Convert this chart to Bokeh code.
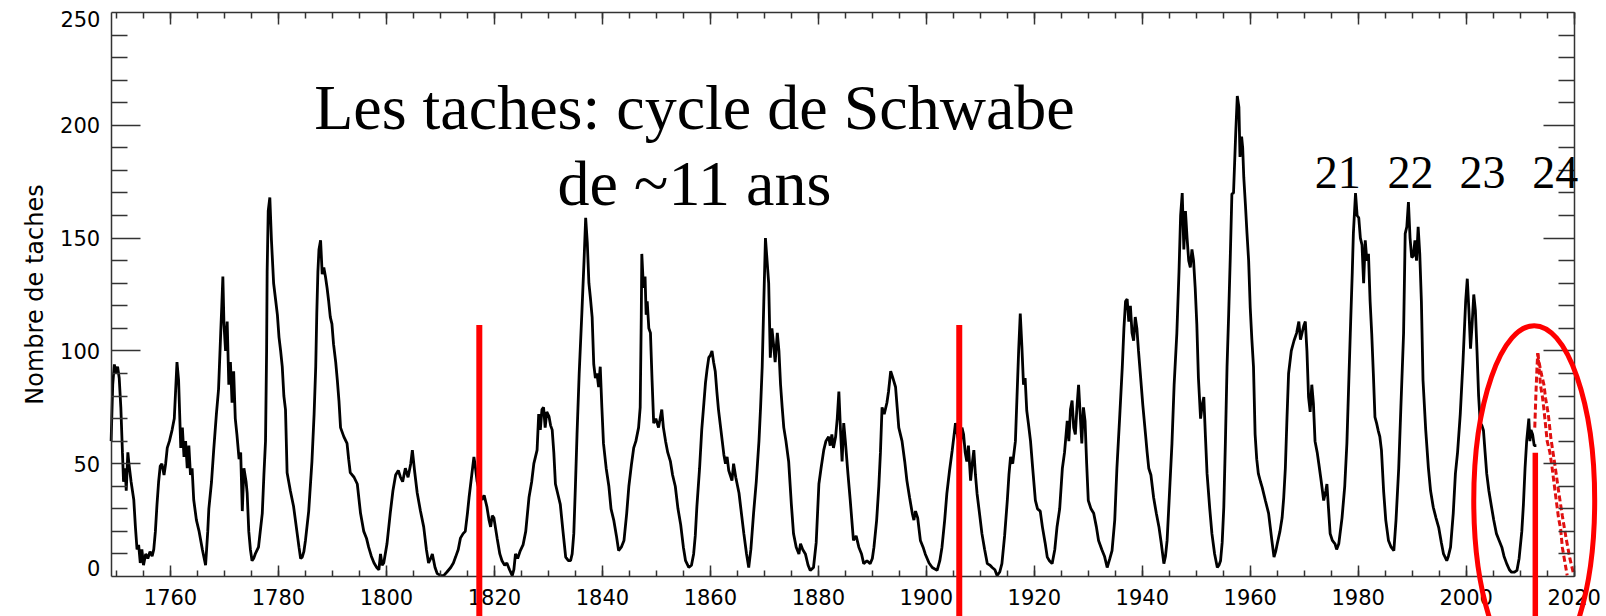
from bokeh.plotting import figure
from bokeh.models import LinearAxis, SingleIntervalTicker, FixedTicker, Range1d, CustomJSTickFormatter
from bokeh.embed import file_html
from bokeh.resources import INLINE
from bokeh.core.properties import value

# ---- sunspot series (year, number) ----
years = [
    1749.0, 1749.3, 1749.6, 1749.9, 1750.2, 1750.5, 1750.8, 1751.1, 1751.3, 1751.6, 1751.8, 1752.1, 1752.3, 1752.7,
    1753.2, 1753.5, 1753.8, 1754.1, 1754.4, 1754.7, 1755.0, 1755.4, 1755.8, 1756.2, 1756.6, 1756.9, 1757.2, 1757.5,
    1757.8, 1758.1, 1758.4, 1758.8, 1759.1, 1759.4, 1759.8, 1760.3, 1760.7, 1761.0, 1761.2, 1761.5, 1761.9, 1762.2,
    1762.5, 1762.8, 1763.1, 1763.4, 1763.7, 1764.0, 1764.3, 1764.8, 1765.3, 1765.9, 1766.5, 1766.9, 1767.1, 1767.6,
    1768.0, 1768.5, 1768.9, 1769.3, 1769.5, 1769.7, 1769.9, 1770.2, 1770.5, 1770.8, 1771.1, 1771.4, 1771.7, 1772.0,
    1772.3, 1772.7, 1773.0, 1773.3, 1773.6, 1774.0, 1774.2, 1774.5, 1774.8, 1775.1, 1775.4, 1775.7, 1776.3, 1777.0,
    1777.3, 1777.6, 1777.8, 1777.9, 1778.1, 1778.4, 1778.7, 1779.1, 1779.5, 1779.8, 1780.1, 1780.4, 1780.7, 1781.0,
    1781.3, 1781.6, 1782.2, 1782.8, 1783.3, 1783.8, 1784.1, 1784.4, 1784.7, 1785.0, 1785.6, 1786.2, 1786.6, 1786.9,
    1787.1, 1787.3, 1787.5, 1787.8, 1788.1, 1788.4, 1788.7, 1789.0, 1789.3, 1789.6, 1789.9, 1790.2, 1790.6, 1790.9,
    1791.2, 1791.5, 1792.1, 1792.7, 1793.0, 1793.3, 1794.0, 1794.6, 1795.2, 1795.8, 1796.3, 1796.7, 1797.2, 1797.7,
    1798.2, 1798.6, 1798.9, 1799.2, 1799.5, 1800.1, 1800.7, 1801.2, 1801.7, 1802.2, 1802.6, 1803.0, 1803.5, 1804.0,
    1804.5, 1804.8, 1805.2, 1805.7, 1806.3, 1806.9, 1807.4, 1807.8, 1808.2, 1808.5, 1809.0, 1809.4, 1810.0, 1810.6,
    1811.2, 1811.9, 1812.4, 1812.8, 1813.3, 1813.7, 1814.2, 1814.6, 1815.0, 1815.3, 1815.8, 1816.2, 1816.5, 1816.8,
    1817.2, 1817.7, 1818.1, 1818.6, 1819.0, 1819.3, 1819.6, 1819.9, 1820.5, 1821.0, 1821.4, 1821.9, 1822.3, 1822.8,
    1823.3, 1823.6, 1823.9, 1824.3, 1824.8, 1825.3, 1825.8, 1826.4, 1826.9, 1827.3, 1827.9, 1828.2, 1828.5, 1828.8,
    1829.1, 1829.4, 1829.7, 1830.1, 1830.4, 1830.7, 1831.0, 1831.3, 1831.8, 1832.2, 1832.7, 1833.2, 1833.7, 1834.1,
    1834.4, 1834.7, 1835.0, 1835.3, 1835.7, 1836.2, 1836.6, 1836.9, 1837.2, 1837.5, 1837.8, 1838.1, 1838.4, 1838.7,
    1839.0, 1839.3, 1839.6, 1839.9, 1840.2, 1840.7, 1841.2, 1841.6, 1842.1, 1842.6, 1843.0, 1843.5, 1844.0, 1844.5,
    1844.9, 1845.4, 1845.8, 1846.2, 1846.7, 1847.0, 1847.2, 1847.3, 1847.6, 1847.9, 1848.1, 1848.3, 1848.6, 1848.9,
    1849.2, 1849.5, 1849.9, 1850.4, 1850.7, 1851.0, 1851.3, 1851.7, 1852.1, 1852.6, 1853.0, 1853.5, 1854.0, 1854.5,
    1855.0, 1855.4, 1856.0, 1856.5, 1856.9, 1857.2, 1857.5, 1858.0, 1858.4, 1858.8, 1859.1, 1859.4, 1859.7, 1860.0,
    1860.3, 1860.6, 1860.9, 1861.2, 1861.5, 1861.9, 1862.2, 1862.5, 1862.8, 1863.1, 1863.4, 1864.0, 1864.3, 1864.7,
    1865.3, 1865.8, 1866.2, 1866.7, 1867.1, 1867.5, 1868.0, 1868.5, 1869.0, 1869.3, 1869.6, 1869.9, 1870.2, 1870.5,
    1870.8, 1871.1, 1871.4, 1871.7, 1872.0, 1872.4, 1872.7, 1873.0, 1873.3, 1873.6, 1874.0, 1874.5, 1875.0, 1875.4,
    1875.9, 1876.4, 1876.7, 1877.1, 1877.6, 1878.1, 1878.5, 1879.1, 1879.6, 1880.1, 1880.5, 1881.0, 1881.4, 1881.9,
    1882.2, 1882.5, 1882.8, 1883.2, 1883.5, 1883.8, 1884.1, 1884.4, 1884.7, 1885.0, 1885.5, 1885.9, 1886.5, 1887.0,
    1887.5, 1888.0, 1888.4, 1889.0, 1889.6, 1890.0, 1890.3, 1890.8, 1891.2, 1891.5, 1891.8, 1892.2, 1892.7, 1893.0,
    1893.4, 1893.8, 1894.3, 1894.6, 1894.9, 1895.5, 1896.0, 1896.4, 1896.9, 1897.4, 1897.7, 1898.0, 1898.4, 1898.9,
    1899.4, 1899.8, 1900.5, 1901.1, 1902.0, 1902.5, 1902.9, 1903.4, 1903.8, 1904.3, 1904.8, 1905.1, 1905.4, 1905.8,
    1906.3, 1906.6, 1906.9, 1907.2, 1907.5, 1907.8, 1908.2, 1908.5, 1908.8, 1909.1, 1909.4, 1909.9, 1910.3, 1910.8,
    1911.3, 1911.8, 1912.2, 1912.7, 1913.1, 1913.6, 1914.0, 1914.5, 1915.0, 1915.3, 1915.6, 1916.0, 1916.5, 1916.8,
    1917.1, 1917.4, 1917.7, 1918.0, 1918.3, 1918.6, 1918.9, 1919.3, 1919.7, 1920.2, 1920.6, 1921.1, 1921.5, 1922.0,
    1922.4, 1922.8, 1923.3, 1923.8, 1924.2, 1924.7, 1925.2, 1925.6, 1926.1, 1926.4, 1926.7, 1927.0, 1927.3, 1927.6,
    1927.9, 1928.2, 1928.5, 1928.8, 1929.1, 1929.4, 1929.7, 1930.0, 1930.5, 1931.0, 1931.5, 1931.9, 1932.5, 1933.0,
    1933.5, 1934.0, 1934.4, 1934.9, 1935.3, 1935.8, 1936.3, 1936.6, 1936.9, 1937.2, 1937.5, 1937.8, 1938.1, 1938.4,
    1938.7, 1939.0, 1939.3, 1939.7, 1940.1, 1940.6, 1940.9, 1941.2, 1941.6, 1942.1, 1942.6, 1943.1, 1943.5, 1944.0,
    1944.3, 1944.6, 1945.0, 1945.5, 1945.9, 1946.4, 1946.8, 1947.1, 1947.4, 1947.7, 1948.0, 1948.3, 1948.6, 1948.9,
    1949.2, 1949.5, 1949.8, 1950.1, 1950.4, 1950.8, 1951.1, 1951.4, 1951.7, 1952.0, 1952.5, 1952.9, 1953.4, 1953.9,
    1954.2, 1954.5, 1954.8, 1955.1, 1955.4, 1955.7, 1956.0, 1956.3, 1956.6, 1956.9, 1957.3, 1957.6, 1957.9, 1958.1,
    1958.4, 1958.6, 1958.8, 1959.1, 1959.4, 1959.7, 1960.0, 1960.3, 1960.6, 1960.9, 1961.2, 1961.5, 1961.9, 1962.2,
    1962.8, 1963.4, 1963.7, 1964.0, 1964.4, 1964.7, 1965.0, 1965.5, 1965.9, 1966.2, 1966.5, 1966.8, 1967.1, 1967.6,
    1968.1, 1968.6, 1969.0, 1969.3, 1969.6, 1969.9, 1970.2, 1970.5, 1970.8, 1971.1, 1971.4, 1971.7, 1972.0, 1972.4,
    1972.7, 1973.1, 1973.6, 1974.0, 1974.2, 1974.5, 1974.8, 1975.2, 1975.7, 1976.0, 1976.4, 1977.0, 1977.5, 1977.9,
    1978.3, 1978.6, 1978.9, 1979.1, 1979.5, 1979.8, 1980.1, 1980.4, 1980.7, 1981.0, 1981.3, 1981.6, 1981.9, 1982.2,
    1982.5, 1982.8, 1983.1, 1983.4, 1983.7, 1984.0, 1984.3, 1984.7, 1985.1, 1985.6, 1986.1, 1986.6, 1987.0, 1987.5,
    1987.9, 1988.4, 1988.7, 1989.0, 1989.3, 1989.6, 1989.9, 1990.2, 1990.5, 1990.8, 1991.1, 1991.4, 1991.7, 1992.0,
    1992.5, 1993.0, 1993.4, 1993.9, 1994.4, 1994.9, 1995.4, 1995.8, 1996.4, 1996.7, 1997.1, 1997.6, 1998.0, 1998.4,
    1998.9, 1999.4, 1999.9, 2000.2, 2000.5, 2000.8, 2001.1, 2001.4, 2001.7, 2002.0, 2002.3, 2002.6, 2002.9, 2003.2,
    2003.5, 2003.8, 2004.2, 2004.7, 2005.1, 2005.6, 2006.1, 2006.6, 2007.0, 2007.5, 2008.0, 2008.4, 2009.0, 2009.4,
    2009.8, 2010.3, 2010.6, 2010.9, 2011.2, 2011.6, 2011.8, 2012.0, 2012.3, 2012.6, 2013.0,
]
sunspots = [
    60, 85, 94, 90, 93, 88, 75, 55, 42, 48, 38, 55, 50, 42,
    34, 22, 12, 14, 6, 12, 5, 10, 8, 11, 9, 12, 20, 32,
    42, 49, 50, 45, 50, 57, 60, 65, 70, 85, 95, 87, 57, 66,
    53, 60, 48, 58, 45, 48, 34, 25, 20, 12, 5, 20, 30, 42,
    56, 72, 83, 108, 120, 133, 112, 100, 113, 85, 95, 77, 91, 70,
    63, 52, 55, 29, 48, 42, 37, 20, 12, 7, 8, 10, 13, 28,
    45, 60, 100, 135, 162, 168, 149, 130, 122, 116, 106, 100, 93, 80,
    74, 46, 38, 31, 22, 13, 8, 8.6, 11, 16, 29, 51, 72, 93,
    117, 135, 145, 149, 134, 137, 133, 128, 122, 115, 112, 103, 95, 87,
    78, 66, 62, 59, 52, 46, 44, 41, 28, 20, 17, 13, 9, 6,
    4, 3, 10, 5, 6, 14.5, 28, 38, 45, 47, 44, 42, 48, 44,
    50, 56, 47, 37, 29, 22, 12, 6, 8, 10, 4, 1.3, 0.5, 0.4,
    2, 4, 6, 8.6, 12, 17, 19, 20, 28, 35, 45, 53, 48, 42,
    38, 34, 36, 31, 25, 22, 27, 26, 17, 10, 7, 5, 6, 3,
    0.4, 3, 10, 8, 11.5, 14, 20, 35, 42, 50, 56, 72, 65, 74,
    75, 66, 73, 71, 67, 65, 55, 41, 36, 32, 20, 8.6, 7, 7,
    10, 19, 40, 63, 90, 117, 140, 159, 148, 130, 123, 115, 94, 88,
    90, 84, 93, 75, 59, 48, 40, 30, 25, 18, 11.5, 13, 16, 28,
    40, 50, 57, 60, 66, 75, 115, 143, 128, 133, 116, 122, 110, 108,
    87, 68, 70, 66, 70, 74, 66, 60, 55, 51, 45, 40, 30, 23,
    13, 7, 4, 5, 10, 18, 31, 48, 65, 77, 86, 92, 97, 98,
    100, 95, 91, 82, 74, 66, 60, 54, 50, 53, 47, 42.5, 50, 44,
    37, 27, 19, 10, 4, 12, 28, 42, 60, 75, 93, 122, 150, 140,
    130, 97, 110, 103, 95, 108, 100, 85, 75, 66, 60, 51, 32, 19,
    13, 10, 14.5, 12, 10, 5, 2.7, 4, 15, 41, 48, 56, 60, 62,
    58, 63, 57, 62, 70, 82, 65, 51, 68, 60, 45, 34, 16, 18,
    13, 10, 5.7, 7, 5.7, 8, 13, 25, 40, 55, 75, 72, 77, 82,
    91, 88, 84, 75, 66, 60, 51, 42.5, 35, 28, 25, 29, 26, 16,
    13, 10, 6, 4, 2.7, 7, 13, 25, 36.7, 47, 56, 62, 68, 62,
    57, 66, 63, 55, 51, 58, 42.5, 50, 56, 45, 36.7, 27, 19, 12,
    5.7, 5, 4, 3, 0.4, 2, 5.7, 18, 33.7, 45, 53, 50, 60, 80,
    100, 116.5, 102, 85, 88, 73.6, 68, 60, 48, 33.7, 30, 29, 22, 15,
    8.6, 7, 5.7, 12, 21.8, 30, 48, 55, 69, 60, 74, 78, 66, 63,
    75, 85, 72, 59, 75, 69, 50, 33.7, 30, 28, 22, 16, 12, 9,
    4, 8, 11.5, 25, 48, 70, 93, 110, 122, 123, 113, 120, 108, 104.5,
    115, 110, 100, 88, 76, 63, 55, 48, 45, 35, 28, 21.8, 15, 5.7,
    9, 16, 35, 59, 85, 107.7, 135, 160, 170, 145, 162, 150, 140, 137,
    145, 140, 128, 112, 88, 70, 76, 79.5, 62, 45.6, 30, 19, 10, 4,
    5, 7, 15, 30.7, 60, 93, 116, 141.5, 169.6, 170, 196, 213, 208, 186,
    195, 190, 177, 165, 152, 140, 119, 105, 93, 63, 52, 45.6, 42, 39.6,
    33.7, 28, 22, 16, 8.6, 11, 14.5, 20, 26, 35, 48, 70, 90, 100,
    104.5, 108, 113, 105, 108, 111, 113, 100, 79.5, 73, 85, 76.6, 60, 55,
    50, 43, 33.7, 38, 41, 30, 19, 16, 14.5, 12, 14.5, 26, 40, 59,
    90, 113, 135, 152, 170, 160, 159, 150, 147, 130, 149, 140, 143, 122,
    107.7, 90, 70.6, 68, 64.7, 62, 56, 38, 25, 16, 13, 11.5, 25, 48,
    75, 107.7, 152, 155, 166, 150, 141.5, 142, 149, 140, 155, 143, 122, 87,
    65, 48, 38, 30.7, 26, 21.8, 15, 10, 7, 9, 13, 28, 45.6, 55,
    72, 95, 122, 132, 118, 101, 112, 125, 118, 100, 80, 68, 67, 64.7,
    55, 45.6, 38, 30.7, 25, 19, 16, 13, 9, 5.7, 3, 1.9, 2, 2.7,
    8, 20, 32, 48, 60, 70, 60, 65, 63, 58, 58,
]

# ---- predicted cycle 24 (two dashed red curves) ----
pred_a_years = [2012.7, 2012.9, 2013.1, 2013.25, 2013.6, 2013.75, 2014.1, 2014.4, 2015.0, 2015.5, 2015.9, 2016.5,
                2017.1, 2017.5, 2017.8, 2018.7]
pred_a_vals = [66, 80, 92, 99, 90, 85, 80, 74, 60, 55, 48.5, 37, 26, 21, 13, 0.5]
pred_b_years = [2013.25, 2013.5, 2013.9, 2014.4, 2014.7, 2015.2, 2015.7, 2016.4, 2017.1, 2017.8, 2018.5, 2019.2,
                2019.9]
pred_b_vals = [99, 95, 90, 85, 79, 72, 61, 50, 38, 27, 17, 8, 1]

# ---- red markers ----
marker_years = [1817.2, 1906.1, 2012.8]
marker_tops = [111.5, 111.5, 54.8]
marker_widths = [6, 6, 5.5]
circle_center = (2012.6, 33.7)
circle_size = (22.4, 155.0)

# ---- texts ----
title_lines = ["Les taches: cycle de Schwabe", "de ~11 ans"]
title_x = [1857.05, 1857.05]
title_y = [207.9, 174.2]
cycle_labels = ["21", "22", "23", "24"]
cycle_x = [1976.2, 1989.7, 2003.0, 2016.5]
cycle_y = [179.1, 179.1, 179.1, 179.1]

# y tick labels: the end labels sit shifted inside the frame, as in the source
y_major_inner = [50, 100, 150, 200]
y_minor = [10, 20, 30, 40, 60, 70, 80, 90, 110, 120, 130, 140, 160, 170, 180, 190, 210, 220, 230, 240]
y_end_labels = ["250", "0"]
y_end_label_y = [246.9, 3.55]
y_end_label_x = [1747.03, 1747.03]

X0, X1 = 1749.0, 2020.0
Y0, Y1 = 0.0, 250.0

p = figure(width=1606, height=616,
           x_range=Range1d(1728.511, 2025.987), y_range=Range1d(-17.730, 255.319),
           output_backend="svg", toolbar_location=None,
           x_axis_location=None, y_axis_location=None,
           min_border=0, title=None)
p.outline_line_color = None
p.background_fill_color = "white"
p.border_fill_color = "white"
p.grid.visible = False

AX_COLOR = "#333333"
TICK_FONT = "DejaVu Sans"


def style_axis(ax, tin, tmin, labels):
    ax.axis_line_color = AX_COLOR
    ax.axis_line_width = 1.5
    ax.major_tick_line_color = AX_COLOR
    ax.minor_tick_line_color = AX_COLOR
    ax.major_tick_line_width = 1.5
    ax.minor_tick_line_width = 1.5
    ax.major_tick_in = tin
    ax.major_tick_out = 0
    ax.minor_tick_in = tmin
    ax.minor_tick_out = 0
    ax.major_label_text_font = TICK_FONT
    ax.major_label_text_font_size = "21px"
    ax.major_label_text_color = "black"
    if not labels:
        ax.formatter = CustomJSTickFormatter(code="return ''")
        ax.major_label_text_color = None


bottom = LinearAxis(fixed_location=Y0, bounds=(X0, X1),
                    ticker=SingleIntervalTicker(interval=20, num_minor_ticks=4))
style_axis(bottom, 11, 6, True)
bottom.major_label_standoff = 12
p.add_layout(bottom, "below")

top = LinearAxis(fixed_location=Y1, bounds=(X0, X1),
                 ticker=SingleIntervalTicker(interval=20, num_minor_ticks=4))
style_axis(top, 12, 6, False)
p.add_layout(top, "above")

left = LinearAxis(fixed_location=X0, bounds=(Y0, Y1),
                  ticker=FixedTicker(ticks=y_major_inner, minor_ticks=y_minor))
style_axis(left, 29, 16, True)
left.major_label_standoff = 11
left.axis_label = "Nombre de taches"
left.axis_label_text_font = TICK_FONT
left.axis_label_text_font_size = "24px"
left.axis_label_text_font_style = "normal"
left.axis_label_text_color = "black"
left.axis_label_standoff = 8
p.add_layout(left, "left")

right = LinearAxis(fixed_location=X1, bounds=(Y0, Y1),
                   ticker=FixedTicker(ticks=y_major_inner, minor_ticks=y_minor))
style_axis(right, 31, 16, False)
p.add_layout(right, "right")

# end tick labels of the y axis
p.text(x=y_end_label_x, y=y_end_label_y, text=y_end_labels, text_font=value(TICK_FONT),
       text_font_size="21px", text_align="right", text_baseline="middle", text_color="black")

# data
p.line(years, sunspots, line_color="black", line_width=2.8)
p.line(pred_a_years, pred_a_vals, line_color="#e01010", line_width=3, line_dash="6 3")
p.line(pred_b_years, pred_b_vals, line_color="#e01010", line_width=3, line_dash="6 3")

# red markers drawn over the axes
for xm, top_v, w in zip(marker_years, marker_tops, marker_widths):
    p.segment(x0=[xm], y0=[top_v], x1=[xm], y1=[-30], line_color="red", line_width=w, level="overlay")
p.ellipse(x=[circle_center[0]], y=[circle_center[1]], width=[circle_size[0]], height=[circle_size[1]],
          fill_color=None, line_color="red", line_width=5, level="overlay")

# texts
p.text(x=title_x, y=title_y, text=title_lines, text_font=value("Liberation Serif"),
       text_font_size="64px", text_align="center", text_baseline="alphabetic", text_color="black")
p.text(x=cycle_x, y=cycle_y, text=cycle_labels, text_font=value("Liberation Serif"),
       text_font_size="46px", text_align="center", text_baseline="alphabetic", text_color="black",
       level="overlay")

open("out.html", "w").write(file_html(p, INLINE))
